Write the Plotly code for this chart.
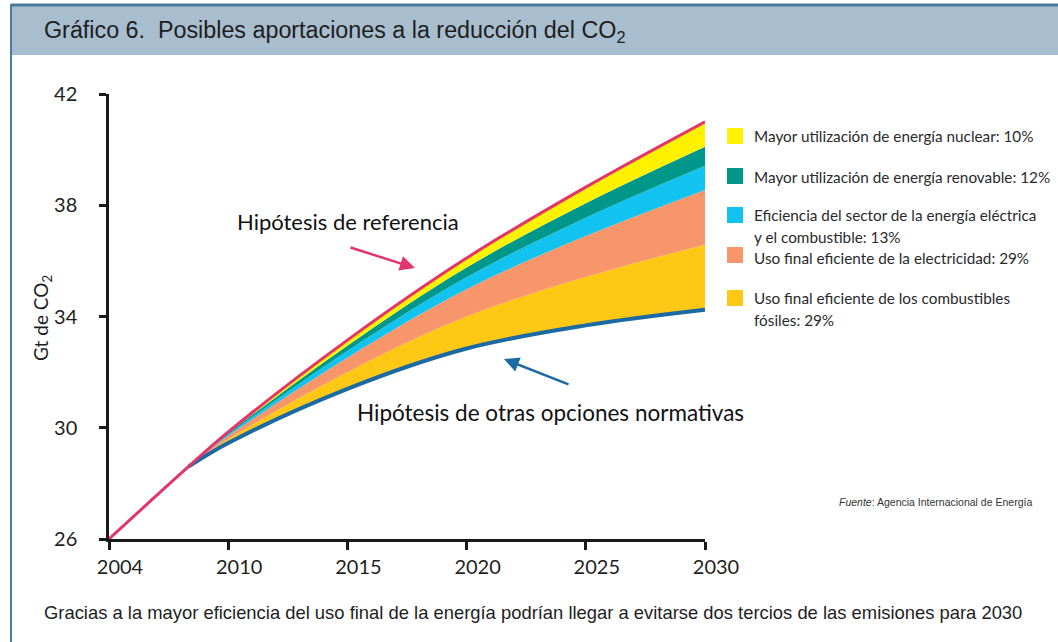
import numpy as np
import plotly.graph_objects as go

# ---------------- data ----------------
tick_years = [2004, 2010, 2015, 2020, 2025, 2030]
tick_labels = ["2004", "2010", "2015", "2020", "2025", "2030"]
y_ticks = [26, 30, 34, 38, 42]

years = [2004, 2008, 2010, 2015, 2020, 2025, 2030]
referencia = [26.0, 28.6, 29.85, 33.15, 36.1, 38.65, 41.0]
otras_opciones = [26.0, 28.6, 29.45, 31.4, 32.85, 33.68, 34.24]

# reductions (Gt) stacked from the lower scenario upward
combustibles_fosiles = [0, 0, 0.14, 0.60, 1.15, 1.74, 2.34]
electricidad = [0, 0, 0.11, 0.52, 0.98, 1.47, 1.97]
sector_electrico = [0, 0, 0.05, 0.24, 0.43, 0.66, 0.87]
renovable = [0, 0, 0.05, 0.19, 0.35, 0.52, 0.68]
nuclear = [0, 0, 0.05, 0.20, 0.34, 0.58, 0.90]

legend_labels = [
    ["Mayor utilización de energía nuclear: 10%"],
    ["Mayor utilización de energía renovable: 12%"],
    ["Eficiencia del sector de la energía eléctrica", "y el combustible: 13%"],
    ["Uso final eficiente de la electricidad: 29%"],
    ["Uso final eficiente de los combustibles", "fósiles: 29%"],
]

# ---------------- styles ----------------
C_PINK = "#e2356b"
C_BLUE = "#1b6aa3"
C_YELLOW = "#fff200"
C_TEAL = "#00978b"
C_CYAN = "#12c3ef"
C_SALMON = "#f8966b"
C_GOLD = "#ffc815"
BAR = "#a8bdce"
BORDER = "#4a7a9c"
TXT = "#1e1e1e"

NARROW = "Liberation Sans, Arial, sans-serif"
SANS = "Lato, Noto Sans, sans-serif"

# axis positions: ticks are evenly spaced in the original graphic
tick_pos = list(range(len(tick_years)))
xpos = np.interp(years, tick_years, tick_pos)

# plot area in pixels
L, R, T, B = 109, 705, 94, 539
W, H = 1058, 642


def px(x):
    return (x - L) / (R - L)


def py(y):
    return (B - y) / (B - T)


SPL = dict(shape="spline", smoothing=1.0)

fig = go.Figure()

# stacked wedges
fig.add_trace(go.Scatter(x=xpos, y=otras_opciones, stackgroup="s", mode="lines",
                         line=dict(width=0, **SPL),
                         fillcolor="rgba(0,0,0,0)", hoverinfo="skip"))
for vals, col in [(combustibles_fosiles, C_GOLD), (electricidad, C_SALMON),
                  (sector_electrico, C_CYAN), (renovable, C_TEAL), (nuclear, C_YELLOW)]:
    fig.add_trace(go.Scatter(x=xpos, y=vals, stackgroup="s", mode="lines",
                             line=dict(width=0, **SPL),
                             fillcolor=col, hoverinfo="skip"))

# scenario lines (the lower scenario is drawn from the point where it diverges)
fig.add_trace(go.Scatter(x=xpos[1:], y=otras_opciones[1:], mode="lines",
                         line=dict(color=C_BLUE, width=4, **SPL), hoverinfo="skip"))
fig.add_trace(go.Scatter(x=xpos, y=referencia, mode="lines",
                         line=dict(color=C_PINK, width=3, **SPL), hoverinfo="skip"))

shapes = [
    dict(type="rect", xref="paper", yref="paper", x0=px(11), x1=px(1062), y0=py(55), y1=py(5),
         fillcolor=BAR, line=dict(width=0), layer="below"),
    dict(type="line", xref="paper", yref="paper", x0=px(11), x1=px(1062), y0=py(5), y1=py(5),
         line=dict(color=BORDER, width=3)),
    dict(type="line", xref="paper", yref="paper", x0=px(11), x1=px(11), y0=py(4), y1=py(645),
         line=dict(color=BORDER, width=2)),
]

annotations = [
    dict(text="Gráfico 6.\u00a0 Posibles aportaciones a la reducción del CO<sub>2</sub>",
         x=px(42), y=py(31), xanchor="left", yanchor="middle",
         font=dict(family=NARROW, size=23.3, color=TXT)),
    dict(text="Gracias a la mayor eficiencia del uso final de la energía podrían llegar a evitarse dos tercios de las emisiones para 2030",
         x=px(42), y=py(612), xanchor="left", yanchor="middle",
         font=dict(family=NARROW, size=18.4, color=TXT)),
    dict(text="Gt de CO<sub>2</sub>", textangle=-90, x=px(42), y=py(318),
         xanchor="center", yanchor="middle", font=dict(family=SANS, size=19, color=TXT)),
    dict(text="Hipótesis de referencia", x=px(235), y=py(221), xanchor="left", yanchor="middle",
         font=dict(family=SANS, size=22, color="#111111")),
    dict(text="Hipótesis de otras opciones normativas", x=px(355), y=py(412), xanchor="left",
         yanchor="middle", font=dict(family=SANS, size=22.5, color="#111111")),
    dict(text="<i>Fuente</i>: Agencia Internacional de Energía", x=px(1034), y=py(502),
         xanchor="right", yanchor="middle", font=dict(family=NARROW, size=10.5, color="#333333")),
    # arrows
    dict(text="", x=px(415), y=py(268), ax=-66, ay=-21, showarrow=True, arrowhead=2,
         arrowsize=1.2, arrowwidth=2.5, arrowcolor=C_PINK, standoff=0),
    dict(text="", x=px(504), y=py(359), ax=66, ay=26, showarrow=True, arrowhead=2,
         arrowsize=1.2, arrowwidth=2.5, arrowcolor=C_BLUE, standoff=0),
]

# manual legend
sq = [(C_YELLOW, 128), (C_TEAL, 168), (C_CYAN, 207), (C_SALMON, 247), (C_GOLD, 290)]
line_y = [[136], [177], [215, 237], [258], [298, 320]]
for (col, top), labels, ys in zip(sq, legend_labels, line_y):
    shapes.append(dict(type="rect", xref="paper", yref="paper", x0=px(727), x1=px(743),
                       y0=py(top + 16), y1=py(top), fillcolor=col, line=dict(width=0)))
    for lab, yy in zip(labels, ys):
        annotations.append(dict(text=lab, x=px(752), y=py(yy), xanchor="left", yanchor="middle",
                                font=dict(family=SANS, size=15.3, color="#2a2a2a")))

for a in annotations:
    a.setdefault("xref", "paper")
    a.setdefault("yref", "paper")
    a.setdefault("showarrow", False)

fig.update_layout(
    width=W, height=H,
    margin=dict(l=L, r=W - R, t=T, b=H - B),
    paper_bgcolor="white", plot_bgcolor="white",
    showlegend=False,
    shapes=shapes, annotations=annotations,
    xaxis=dict(range=[0, 5], tickvals=tick_pos, ticktext=tick_labels, showgrid=False,
               zeroline=False, showline=True, linecolor="#1a1a1a", linewidth=2.5,
               ticks="outside", ticklen=8, tickwidth=2.5, tickcolor="#1a1a1a",
               ticklabelshift=11, ticklabelstandoff=0,
               tickfont=dict(family=SANS, size=20, color=TXT), fixedrange=True),
    yaxis=dict(range=[26, 42], tickvals=y_ticks, showgrid=False, zeroline=False,
               showline=True, linecolor="#1a1a1a", linewidth=2.5,
               ticks="outside", ticklen=7, tickwidth=2.5, tickcolor="#1a1a1a",
               ticklabelstandoff=18,
               tickfont=dict(family=SANS, size=20, color=TXT), fixedrange=True),
)

fig.write_html("out.html", post_script="document.body.style.margin='0';",
               config={"displayModeBar": False})
